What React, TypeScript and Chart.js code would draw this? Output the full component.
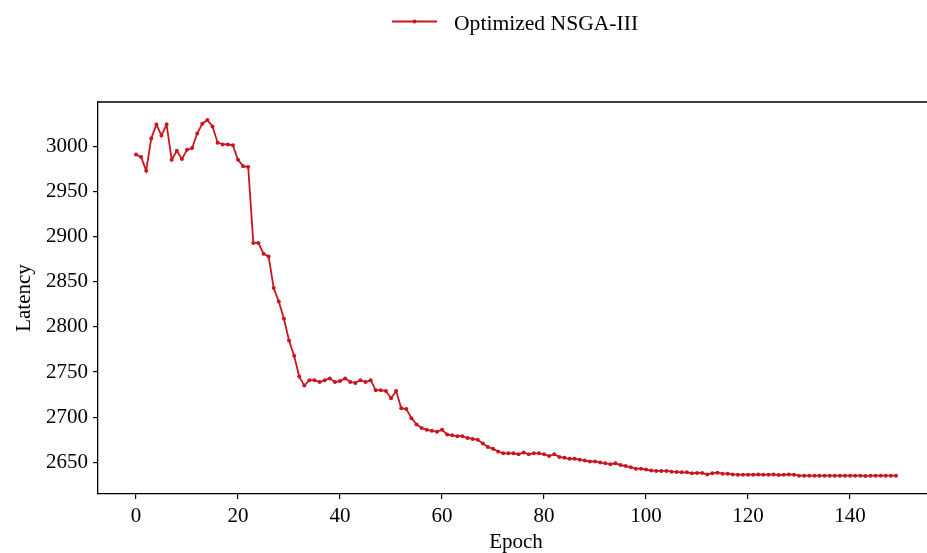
import React, { useEffect, useRef } from "react";
import { Chart, registerables } from "chart.js";

Chart.register(...registerables);

const SERIES_LABEL = "Optimized NSGA-III";
const X_TITLE = "Epoch";
const Y_TITLE = "Latency";

const latency: number[] = [
  2991, 2988, 2973, 3009, 3024, 3012, 3024, 2985, 2995, 2986,
  2996, 2998, 3014, 3025, 3029, 3022, 3004, 3002, 3002, 3001,
  2985, 2978, 2977, 2893, 2893, 2881, 2878, 2843, 2828, 2809,
  2785, 2768, 2745, 2735, 2741, 2741, 2739, 2741, 2743, 2739,
  2740, 2743, 2739, 2738, 2741, 2739, 2741, 2730, 2730, 2729,
  2721, 2729, 2710, 2709, 2699, 2692, 2688, 2686, 2685, 2684,
  2686, 2681, 2680, 2679, 2679, 2677, 2676, 2675, 2671, 2667,
  2665, 2662, 2660, 2660, 2660, 2659, 2661, 2659, 2660, 2660,
  2659, 2657, 2659, 2656, 2655, 2654, 2654, 2653, 2652, 2651,
  2651, 2650, 2649, 2648, 2649, 2647, 2646, 2644.5, 2643, 2643,
  2642, 2641, 2640.5, 2640.5, 2640.5, 2639.7, 2639.4, 2639, 2639, 2638,
  2638.3, 2638.3, 2636.7, 2638, 2638.6, 2637.5, 2637.5, 2636.7, 2636.4, 2636.4,
  2636.4, 2636.4, 2636.7, 2636.4, 2636.4, 2636.7, 2636, 2636.4, 2636.7, 2636.4,
  2635.3, 2635.3, 2635.3, 2635.3, 2635.3, 2635.3, 2635.3, 2635.3, 2635.3, 2635.3,
  2635.3, 2635.3, 2635.3, 2635, 2635.3, 2635.3, 2635.3, 2635.3, 2635.3, 2635.3,
];

const epochs: number[] = latency.map((_, i) => i);

const xTicks: number[] = [0, 20, 40, 60, 80, 100, 120, 140];
const yTicks: number[] = [2650, 2700, 2750, 2800, 2850, 2900, 2950, 3000];

const X_MIN = -7.45;
const X_MAX = 156.45;
const Y_MIN = 2615;
const Y_MAX = 3049;

const LINE_COLOR = "#c8171e";
const FONT_FAMILY = "'Liberation Serif', 'Times New Roman', serif";
const FONT_SIZE = 21;
const LEGEND_FONT_SIZE = 21.6;

const VIEW_W = 927;
const CANVAS_W = 950;
const CANVAS_H = 553;

const framePlugin = {
  id: "frameAndLegend",
  afterDraw(chart: any) {
    const { ctx, chartArea } = chart;
    ctx.save();
    ctx.strokeStyle = "#000";
    ctx.lineWidth = 1.3;
    ctx.beginPath();
    ctx.moveTo(chartArea.left, chartArea.top);
    ctx.lineTo(chartArea.right, chartArea.top);
    ctx.lineTo(chartArea.right, chartArea.bottom);
    ctx.stroke();

    // legend
    ctx.font = `${LEGEND_FONT_SIZE}px ${FONT_FAMILY}`;
    const lineLen = 45;
    const gap = 17;
    const x0 = 392;
    const ly = 21.5;
    ctx.strokeStyle = LINE_COLOR;
    ctx.lineWidth = 1.8;
    ctx.beginPath();
    ctx.moveTo(x0, ly);
    ctx.lineTo(x0 + lineLen, ly);
    ctx.stroke();
    ctx.fillStyle = LINE_COLOR;
    ctx.beginPath();
    ctx.arc(x0 + lineLen / 2, ly, 2, 0, Math.PI * 2);
    ctx.fill();
    ctx.fillStyle = "#000";
    ctx.textAlign = "left";
    ctx.textBaseline = "alphabetic";
    ctx.fillText(SERIES_LABEL, x0 + lineLen + gap, 29.5);
    ctx.restore();
  },
};

export default function App() {
  const canvasRef = useRef<HTMLCanvasElement | null>(null);

  useEffect(() => {
    const prevMargin = document.body.style.margin;
    document.body.style.margin = "0";
    const canvas = canvasRef.current;
    if (!canvas) return;
    const chart = new Chart(canvas, {
      type: "line",
      data: {
        datasets: [
          {
            label: SERIES_LABEL,
            data: epochs.map((e, i) => ({ x: e, y: latency[i] })),
            borderColor: LINE_COLOR,
            backgroundColor: LINE_COLOR,
            borderWidth: 1.8,
            pointRadius: 2,
            pointBorderWidth: 0,
            pointBackgroundColor: LINE_COLOR,
            tension: 0,
          },
        ],
      },
      options: {
        responsive: false,
        animation: false,
        devicePixelRatio: 1,
        layout: { padding: { top: 102, right: 16, bottom: 0, left: 0 } },
        plugins: {
          legend: { display: false },
          tooltip: { enabled: false },
        },
        scales: {
          x: {
            type: "linear",
            min: X_MIN,
            max: X_MAX,
            afterBuildTicks: (scale: any) => {
              scale.ticks = xTicks.map((v) => ({ value: v }));
            },
            afterFit: (scale: any) => {
              scale.height = CANVAS_H - 494;
            },
            grid: {
              drawOnChartArea: false,
              drawTicks: true,
              tickLength: 5,
              color: "#000",
              lineWidth: 1.2,
            },
            border: { color: "#000", width: 1.3 },
            ticks: {
              color: "#000",
              padding: 5,
              maxRotation: 0,
              font: { family: FONT_FAMILY, size: FONT_SIZE },
              callback: (v: any) => String(v),
            },
            title: {
              display: true,
              text: X_TITLE,
              color: "#000",
              padding: { top: 0, bottom: 0 },
              font: { family: FONT_FAMILY, size: FONT_SIZE, lineHeight: 1.0 },
            },
          },
          y: {
            type: "linear",
            min: Y_MIN,
            max: Y_MAX,
            afterBuildTicks: (scale: any) => {
              scale.ticks = yTicks.map((v) => ({ value: v }));
            },
            afterFit: (scale: any) => {
              scale.width = 98;
            },
            grid: {
              drawOnChartArea: false,
              drawTicks: true,
              tickLength: 5,
              color: "#000",
              lineWidth: 1.2,
            },
            border: { color: "#000", width: 1.3 },
            ticks: {
              color: "#000",
              padding: 5,
              font: { family: FONT_FAMILY, size: FONT_SIZE },
              callback: (v: any) => String(v),
            },
            title: {
              display: true,
              text: Y_TITLE,
              color: "#000",
              padding: { top: 12, bottom: 0 },
              font: { family: FONT_FAMILY, size: FONT_SIZE },
            },
          },
        },
      },
      plugins: [framePlugin],
    });
    return () => {
      chart.destroy();
      document.body.style.margin = prevMargin;
    };
  }, []);

  return (
    <div
      style={{
        width: VIEW_W,
        height: CANVAS_H,
        overflow: "hidden",
        background: "#fff",
        position: "relative",
      }}
    >
      <canvas
        ref={canvasRef}
        width={CANVAS_W}
        height={CANVAS_H}
        style={{ display: "block", width: CANVAS_W, height: CANVAS_H }}
      />
    </div>
  );
}
